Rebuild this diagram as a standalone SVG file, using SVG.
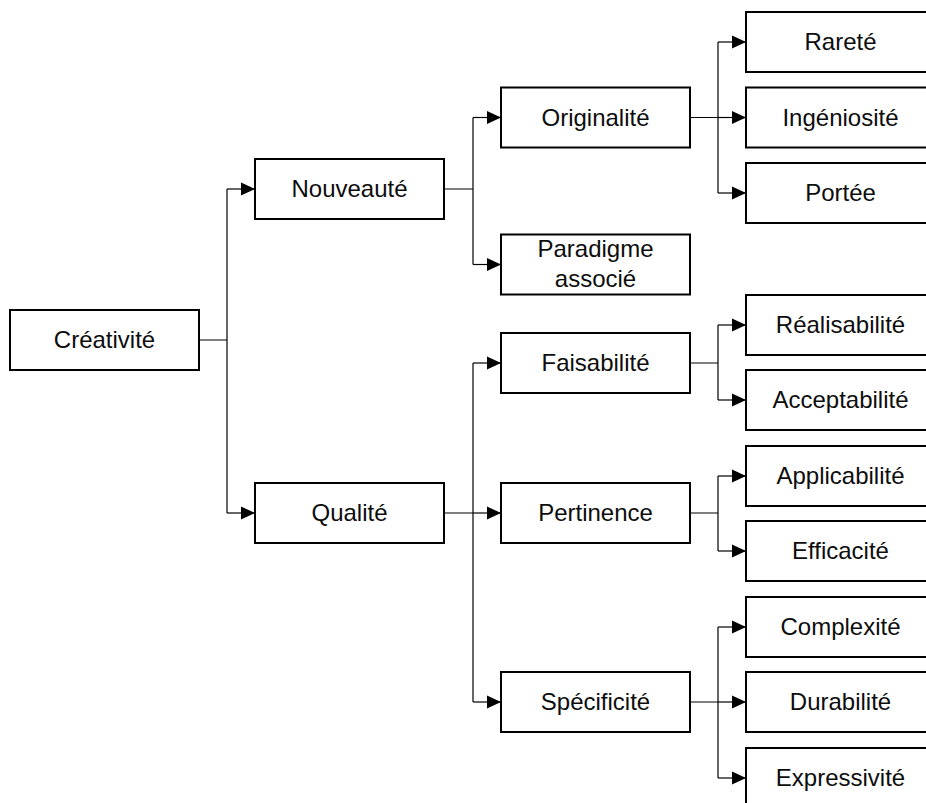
<svg xmlns="http://www.w3.org/2000/svg" width="926" height="803" viewBox="0 0 926 803">
<defs>
<marker id="arr" markerUnits="userSpaceOnUse" markerWidth="14" markerHeight="14" refX="14" refY="7" orient="auto">
<path d="M0,0.5 L14,7 L0,13.5 z" fill="#000"/>
</marker>
<style>
.box{fill:#fff;stroke:#000;stroke-width:2}
.lbl{font-family:"Liberation Sans",Arial,sans-serif;font-size:24px;fill:#0d0d0d;text-anchor:middle}
.c{fill:none;stroke:#000;stroke-width:1.2}
.a{marker-end:url(#arr)}
</style>
</defs>
<rect width="926" height="803" fill="#fff"/>
<g id="connectors">
<path class="c" d="M199,340 H227 M227,189 V513"/>
<path class="c a" d="M227,189 H255"/>
<path class="c a" d="M227,513 H255"/>
<path class="c" d="M444,189 H473 M473,117.5 V264.5"/>
<path class="c a" d="M473,117.5 H501"/>
<path class="c a" d="M473,264.5 H501"/>
<path class="c" d="M444,513 H473 M473,363 V702"/>
<path class="c a" d="M473,363 H501"/>
<path class="c a" d="M473,513 H501"/>
<path class="c a" d="M473,702 H501"/>
<path class="c" d="M690,117.5 H718 M718,42 V193"/>
<path class="c a" d="M718,42 H746"/>
<path class="c a" d="M718,117.5 H746"/>
<path class="c a" d="M718,193 H746"/>
<path class="c" d="M690,363 H718 M718,325 V400"/>
<path class="c a" d="M718,325 H746"/>
<path class="c a" d="M718,400 H746"/>
<path class="c" d="M690,513 H718 M718,476 V551"/>
<path class="c a" d="M718,476 H746"/>
<path class="c a" d="M718,551 H746"/>
<path class="c" d="M690,702 H718 M718,627 V778"/>
<path class="c a" d="M718,627 H746"/>
<path class="c a" d="M718,702 H746"/>
<path class="c a" d="M718,778 H746"/>
</g>
<g id="creativite"><rect class="box" x="10" y="310" width="189" height="60"/><text class="lbl" x="104.5" y="348">Créativité</text></g>
<g id="nouveaute"><rect class="box" x="255" y="159" width="189" height="60"/><text class="lbl" x="349.5" y="197">Nouveauté</text></g>
<g id="qualite"><rect class="box" x="255" y="483" width="189" height="60"/><text class="lbl" x="349.5" y="521">Qualité</text></g>
<g id="originalite"><rect class="box" x="501" y="87.5" width="189" height="60"/><text class="lbl" x="595.5" y="125.5">Originalité</text></g>
<g id="paradigme"><rect class="box" x="501" y="234.5" width="189" height="60"/><text class="lbl" x="595.5" y="257">Paradigme</text><text class="lbl" x="595.5" y="287">associé</text></g>
<g id="faisabilite"><rect class="box" x="501" y="333" width="189" height="60"/><text class="lbl" x="595.5" y="371">Faisabilité</text></g>
<g id="pertinence"><rect class="box" x="501" y="483" width="189" height="60"/><text class="lbl" x="595.5" y="521">Pertinence</text></g>
<g id="specificite"><rect class="box" x="501" y="672" width="189" height="60"/><text class="lbl" x="595.5" y="710">Spécificité</text></g>
<g id="rarete"><rect class="box" x="746" y="12" width="189" height="60"/><text class="lbl" x="840.5" y="50">Rareté</text></g>
<g id="ingeniosite"><rect class="box" x="746" y="87.5" width="189" height="60"/><text class="lbl" x="840.5" y="125.5">Ingéniosité</text></g>
<g id="portee"><rect class="box" x="746" y="163" width="189" height="60"/><text class="lbl" x="840.5" y="201">Portée</text></g>
<g id="realisabilite"><rect class="box" x="746" y="295" width="189" height="60"/><text class="lbl" x="840.5" y="333">Réalisabilité</text></g>
<g id="acceptabilite"><rect class="box" x="746" y="370" width="189" height="60"/><text class="lbl" x="840.5" y="408">Acceptabilité</text></g>
<g id="applicabilite"><rect class="box" x="746" y="446" width="189" height="60"/><text class="lbl" x="840.5" y="484">Applicabilité</text></g>
<g id="efficacite"><rect class="box" x="746" y="521" width="189" height="60"/><text class="lbl" x="840.5" y="559">Efficacité</text></g>
<g id="complexite"><rect class="box" x="746" y="597" width="189" height="60"/><text class="lbl" x="840.5" y="635">Complexité</text></g>
<g id="durabilite"><rect class="box" x="746" y="672" width="189" height="60"/><text class="lbl" x="840.5" y="710">Durabilité</text></g>
<g id="expressivite"><rect class="box" x="746" y="748" width="189" height="60"/><text class="lbl" x="840.5" y="786">Expressivité</text></g>
</svg>
